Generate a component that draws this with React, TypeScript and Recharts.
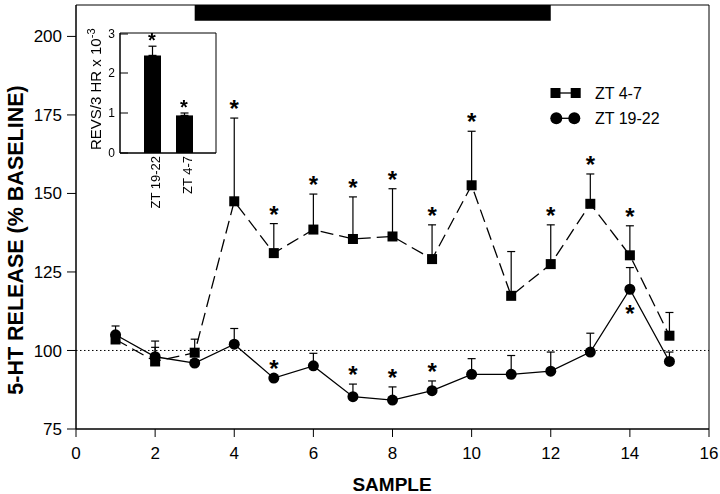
import {
  ComposedChart,
  Line,
  Bar,
  Scatter,
  XAxis,
  YAxis,
  ErrorBar,
  ReferenceLine,
  ReferenceArea,
  Label,
} from "recharts";

const FONT = "'Liberation Sans', Arial, Helvetica, sans-serif";

// main panel
const samples = [1, 2, 3, 4, 5, 6, 7, 8, 9, 10, 11, 12, 13, 14, 15];
const zt47 = [103.5, 96.5, 99.3, 147.5, 131, 138.5, 135.5, 136.3, 129.1, 152.6, 117.4, 127.5, 146.7, 130.3, 104.7];
const zt47Err = [2, 6.5, 4.3, 26.5, 9.4, 11.3, 13.4, 15.2, 10.9, 17.2, 14.1, 12.5, 9.5, 9.4, 7.4];
const zt1922 = [105, 98, 96, 102, 91.2, 95.1, 85.3, 84.2, 87.2, 92.4, 92.4, 93.4, 99.5, 119.5, 96.5];
const zt1922Err = [2.8, 3, 1, 5, 0, 4, 4, 4.2, 3.1, 5, 6, 6.1, 6, 6.9, 3];
const zt47Stars = [4, 5, 6, 7, 8, 9, 10, 12, 13, 14];
const zt1922StarsAbove = [5, 7, 8, 9];
const zt1922StarsBelow = [14];
const xTicks = [0, 2, 4, 6, 8, 10, 12, 14, 16];
const yTicks = [75, 100, 125, 150, 175, 200];

// inset
const insetGroups = ["ZT 19-22", "ZT 4-7"];
const insetValues = [2.44, 0.94];
const insetErr = [0.23, 0.06];
const insetTicks = [0, 0.5, 1, 1.5, 2, 2.5, 3];

const rows = samples.map((s, i) => ({
  sample: s,
  zt47: zt47[i],
  zt47Err: [0, zt47Err[i]],
  zt1922: zt1922[i],
  zt1922Err: [0, zt1922Err[i]],
}));

const starRows = [
  ...zt47Stars.map((s) => ({ sample: s, y: zt47[s - 1] + zt47Err[s - 1], below: false })),
  ...zt1922StarsAbove.map((s) => ({ sample: s, y: zt1922[s - 1] + zt1922Err[s - 1], below: false })),
  ...zt1922StarsBelow.map((s) => ({ sample: s, y: zt1922[s - 1], below: true })),
];

const insetRows = insetGroups.map((g, i) => ({ x: i + 1, v: insetValues[i], e: [0, insetErr[i]] }));
const insetStarRows = insetGroups.map((g, i) => ({ x: i + 1, y: insetValues[i] + insetErr[i] }));

const Square = (p: any) =>
  p.cx == null ? null : <rect key={p.index} x={p.cx - 5} y={p.cy - 5} width={10} height={10} fill="#000" />;
const Dot = (p: any) => (p.cx == null ? null : <circle key={p.index} cx={p.cx} cy={p.cy} r={5.5} fill="#000" />);

const Star = (p: any) => (
  <text
    x={p.cx}
    y={p.payload.below ? p.cy + 33 : p.cy - 1}
    textAnchor="middle"
    fontSize={24}
    fontWeight="bold"
    fontFamily={FONT}
    fill="#000"
  >
    *
  </text>
);

const InsetStar = (p: any) => (
  <text x={p.cx} y={p.cy + 1} textAnchor="middle" fontSize={20} fontWeight="bold" fontFamily={FONT} fill="#000">
    *
  </text>
);

const InsetYTick = (p: any) => {
  const v = p.payload.value;
  return (
    <g>
      <line x1={p.x} x2={p.x + 8} y1={p.y} y2={p.y} stroke="#000" strokeWidth={1} />
      {Number.isInteger(v) && (
        <text x={p.x - 5} y={p.y} dy="0.36em" textAnchor="end" fontSize={12} fontFamily={FONT} fill="#000">
          {v}
        </text>
      )}
    </g>
  );
};

const InsetXTick = (p: any) => (
  <text
    x={0}
    y={0}
    transform={`translate(${p.x + 8},${p.y + 3}) rotate(-90)`}
    textAnchor="end"
    fontSize={13}
    fontFamily={FONT}
    fill="#000"
  >
    {insetGroups[p.payload.value - 1]}
  </text>
);

function Legend() {
  return (
    <svg width={150} height={60} style={{ position: "absolute", left: 540, top: 75 }}>
      <line x1={15.5} x2={35.7} y1={18} y2={18} stroke="#000" strokeWidth={1.3} />
      <rect x={10.5} y={13} width={10} height={10} fill="#000" />
      <rect x={30.7} y={13} width={10} height={10} fill="#000" />
      <text x={55} y={18} dy="0.36em" fontSize={16} fontFamily={FONT} fill="#000">
        ZT 4-7
      </text>
      <line x1={16.3} x2={34.3} y1={43.3} y2={43.3} stroke="#000" strokeWidth={1.3} />
      <circle cx={16.3} cy={43.3} r={6} fill="#000" />
      <circle cx={34.3} cy={43.3} r={6} fill="#000" />
      <text x={55} y={43.3} dy="0.36em" fontSize={16} fontFamily={FONT} fill="#000">
        ZT 19-22
      </text>
    </svg>
  );
}

export default function App() {
  const tick = { fill: "#000", fontSize: 17, fontFamily: FONT };
  return (
    <div style={{ position: "absolute", left: 0, top: 0, width: 720, height: 494, background: "#fff" }}>
      <ComposedChart width={720} height={494} data={rows} margin={{ top: 5, right: 11, bottom: 0, left: 0 }}>
        <XAxis
          dataKey="sample"
          type="number"
          domain={[0, 16]}
          ticks={xTicks}
          tick={tick}
          tickSize={8}
          tickMargin={10}
          height={65}
          stroke="#000"
        >
          <Label
            content={() => (
              <text x={392} y={491} textAnchor="middle" fontSize={19} fontWeight="bold" fontFamily={FONT} fill="#000">
                SAMPLE
              </text>
            )}
          />
        </XAxis>
        <YAxis
          type="number"
          domain={[75, 210]}
          ticks={yTicks}
          tick={tick}
          tickSize={9}
          tickMargin={5}
          width={76}
          stroke="#000"
        >
          <Label
            content={() => (
              <text
                x={15.5}
                y={240}
                transform="rotate(-90 15.5 240)"
                textAnchor="middle"
                dominantBaseline="central"
                fontSize={21.5}
                fontWeight="bold"
                fontFamily={FONT}
                fill="#000"
              >
                5-HT RELEASE (% BASELINE)
              </text>
            )}
          />
        </YAxis>
        <ReferenceArea x1={0} x2={16} y1={75} y2={210} fill="none" stroke="#000" strokeWidth={1} />
        <ReferenceArea x1={3} x2={12} y1={205} y2={210} fill="#000" fillOpacity={1} stroke="none" />
        <ReferenceLine y={100} stroke="#000" strokeWidth={1} strokeDasharray="1.5 2.5" />
        <Line
          dataKey="zt1922"
          type="linear"
          stroke="#000"
          strokeWidth={1.3}
          dot={Dot}
          activeDot={false}
          isAnimationActive={false}
        >
          <ErrorBar dataKey="zt1922Err" direction="y" width={4} stroke="#000" strokeWidth={1.2} isAnimationActive={false} />
        </Line>
        <Line
          dataKey="zt47"
          type="linear"
          stroke="#000"
          strokeWidth={1.3}
          strokeDasharray="13 6"
          dot={Square}
          activeDot={false}
          isAnimationActive={false}
        >
          <ErrorBar dataKey="zt47Err" direction="y" width={4} stroke="#000" strokeWidth={1.2} isAnimationActive={false} />
        </Line>
        <Scatter data={starRows} dataKey="y" shape={Star} isAnimationActive={false} />
      </ComposedChart>

      <div style={{ position: "absolute", left: 60, top: 25, willChange: "transform" }}>
        <ComposedChart width={170} height={190} data={insetRows} margin={{ top: 8, right: 14, bottom: 0, left: 20 }}>
          <XAxis
            dataKey="x"
            type="number"
            domain={[0, 3]}
            ticks={[1, 2]}
            tick={InsetXTick}
            tickLine={false}
            tickSize={0}
            tickMargin={0}
            height={62}
            stroke="#000"
          />
          <YAxis
            type="number"
            domain={[0, 3]}
            ticks={insetTicks}
            tick={InsetYTick}
            tickLine={false}
            tickSize={0}
            tickMargin={0}
            width={40}
            stroke="#000"
          >
            <Label
              content={() => (
                <text
                  x={41}
                  y={125}
                  transform="rotate(-90 41 125)"
                  textAnchor="start"
                  fontSize={15}
                  fontFamily={FONT}
                  fill="#000"
                >
                  REVS/3 HR x 10
                  <tspan dy={-6} fontSize={11}>
                    -3
                  </tspan>
                </text>
              )}
            />
          </YAxis>
          <ReferenceArea x1={0} x2={3} y1={0} y2={3} fill="none" stroke="#000" strokeWidth={1} />
          <Bar dataKey="v" fill="#000" barSize={17} isAnimationActive={false}>
            <ErrorBar dataKey="e" direction="y" width={4} stroke="#000" strokeWidth={1.2} isAnimationActive={false} />
          </Bar>
          <Scatter data={insetStarRows} dataKey="y" shape={InsetStar} isAnimationActive={false} />
        </ComposedChart>
      </div>

      <Legend />
    </div>
  );
}
